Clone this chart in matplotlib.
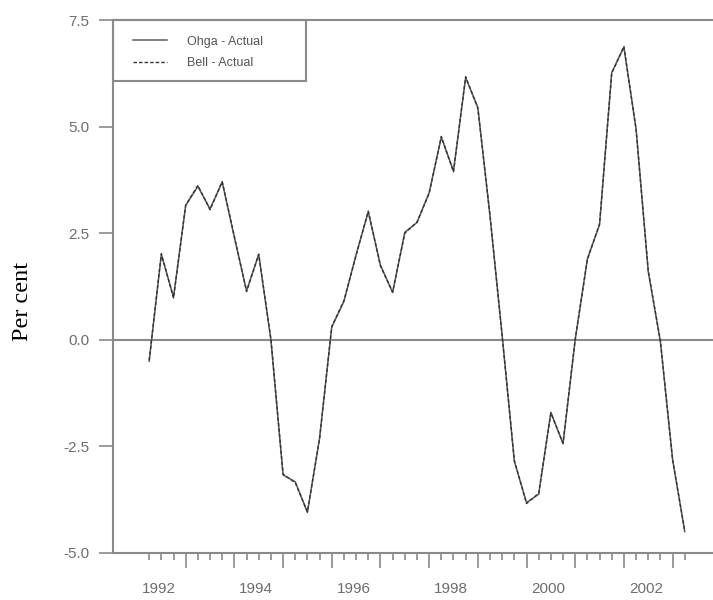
import numpy as np
import matplotlib
matplotlib.use('Agg')
import matplotlib.pyplot as plt
from matplotlib.patches import Rectangle
from matplotlib.ticker import FormatStrFormatter

# quarterly observations, 1992Q2 .. 2003Q2
quarters = [(y, q) for y in range(1992, 2004) for q in range(1, 5)][1:46]
t = np.array([y + (q - 1) / 4.0 for y, q in quarters])

ohga = [-0.5, 2.0, 1.0, 3.15, 3.6, 3.07, 3.7, 2.4, 1.15, 2.0,
        0.0, -3.17, -3.33, -4.05, -2.3, 0.3, 0.9, 2.0, 3.0, 1.75,
        1.11, 2.52, 2.75, 3.45, 4.75, 3.96, 6.15, 5.45, 2.9, 0.1,
        -2.85, -3.82, -3.62, -1.7, -2.44, 0.0, 1.9, 2.7, 6.27, 6.86,
        4.95, 1.6, -0.05, -2.8, -4.5]
bell = [-0.48, 2.02, 0.98, 3.16, 3.62, 3.05, 3.71, 2.42, 1.13, 2.01,
        0.02, -3.15, -3.35, -4.03, -2.32, 0.31, 0.92, 1.98, 3.02, 1.73,
        1.12, 2.5, 2.76, 3.43, 4.77, 3.94, 6.17, 5.43, 2.92, 0.08,
        -2.83, -3.84, -3.6, -1.72, -2.42, 0.02, 1.88, 2.72, 6.25, 6.88,
        4.93, 1.62, -0.03, -2.82, -4.48]

year_ticks = list(range(1993, 2004))
year_labels = ['1992', '1994', '1996', '1998', '2000', '2002']
y_ticks = [-5.0, -2.5, 0.0, 2.5, 5.0, 7.5]

grey = '#8a8a8a'

fig = plt.figure(figsize=(7.13, 6.0), dpi=100)
ax = fig.add_axes([113 / 713, 47 / 600, 600 / 713, 533 / 600])

ax.axhline(0, color=grey, lw=1.5, zorder=1)
ax.plot(t, ohga, color='#5a5a5a', lw=1.1, label='Ohga - Actual', zorder=2)
ax.plot(t, bell, color='#333333', lw=1.0, ls=(0, (2.5, 1.5)), label='Bell - Actual', zorder=3)

ax.set_xlim(1991.507, 2003.83)
ax.set_ylim(-5, 7.5)

for s in ['left', 'bottom', 'top']:
    ax.spines[s].set_color(grey)
    ax.spines[s].set_linewidth(1.5)
ax.spines['right'].set_visible(False)

ax.set_yticks(y_ticks)
ax.yaxis.set_major_formatter(FormatStrFormatter('%.1f'))
ax.tick_params(axis='y', direction='out', length=10, width=1.2, color=grey,
               labelcolor='#6e6e6e', labelsize=11, pad=7)
for lab in ax.get_yticklabels():
    lab.set_family('Liberation Sans')

ax.set_xticks(year_ticks, labels=[])
ax.set_xticks([x for x in t if x not in year_ticks], minor=True)
ax.tick_params(axis='x', which='major', direction='out', length=11, width=1.2, color=grey)
ax.tick_params(axis='x', which='minor', direction='out', length=5, width=1.2, color=grey)

sec = ax.secondary_xaxis('bottom')
sec.set_xticks([int(y) + 0.45 for y in year_labels], labels=year_labels)
sec.tick_params(length=0, pad=21, labelsize=11, labelcolor='#6e6e6e')
sec.spines['bottom'].set_visible(False)
for lab in sec.get_xticklabels():
    lab.set_family('Liberation Sans')

leg = ax.legend(loc='upper left', bbox_to_anchor=(0.015, 0.992), frameon=False,
                prop={'family': 'Liberation Sans', 'size': 9}, handlelength=2.7,
                handletextpad=1.6, borderpad=0.9, labelspacing=0.75, borderaxespad=0)
for txt in leg.get_texts():
    txt.set_color('#555555')
ax.add_patch(Rectangle((0, 1 - 61 / 533), 193 / 600, 61 / 533, transform=ax.transAxes,
                       fill=False, ec=grey, lw=1.5, clip_on=False, zorder=5))

fig.text(22 / 713, 1 - 301 / 600, 'Per cent', rotation=90, family='Liberation Serif',
         size=17.5, ha='center', va='center')

fig.savefig('out.png', dpi=100)
